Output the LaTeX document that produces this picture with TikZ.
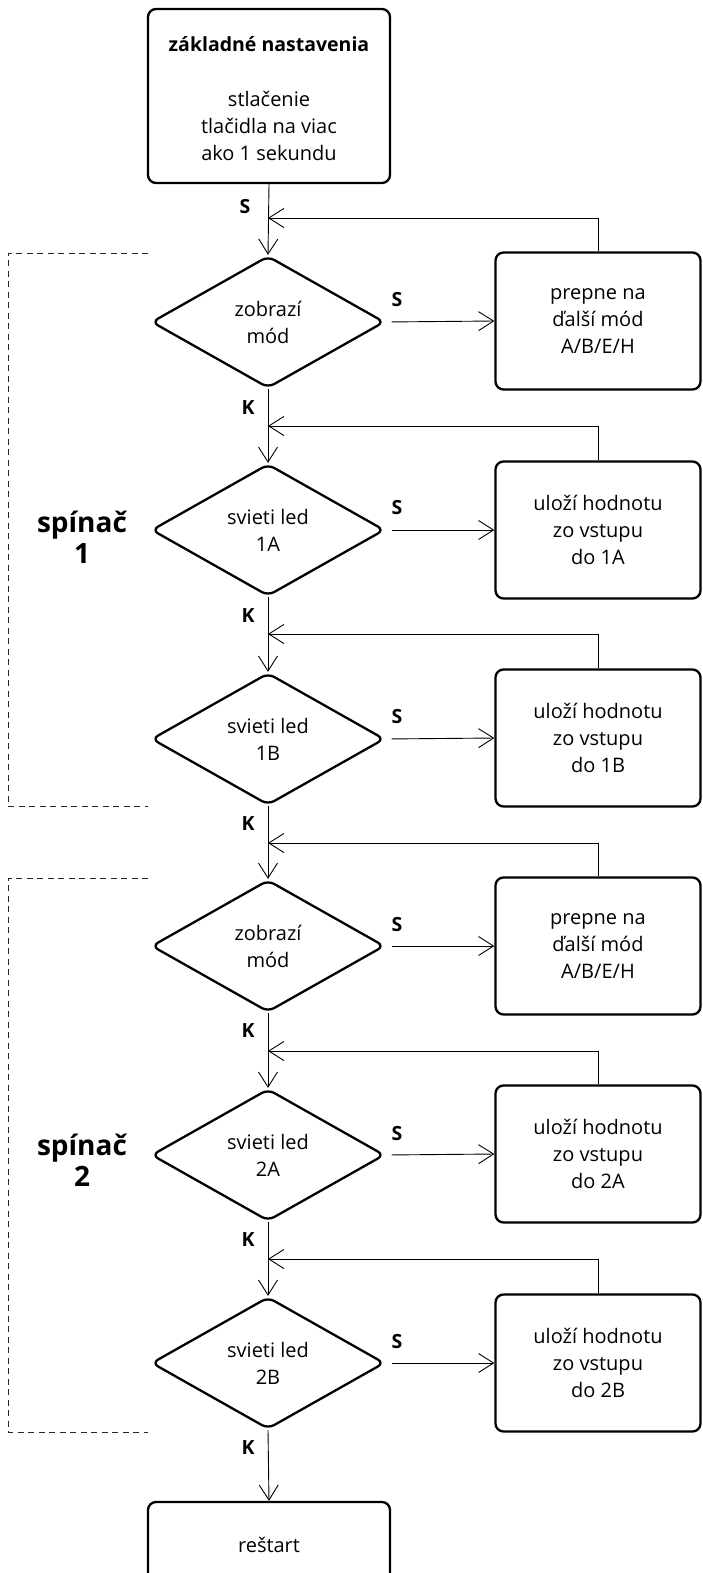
\documentclass[tikz,border=0pt]{standalone}
\usepackage{fontspec}
\setmainfont{Open Sans}
\usetikzlibrary{shapes.geometric,arrows.meta}
\begin{document}
\begin{tikzpicture}[x=1pt,y=-1pt,
  txt/.style={font=\fontsize{20}{27}\selectfont, align=center},
  box/.style={draw, line width=2.3pt, rounded corners=8pt, txt, inner sep=0pt},
  dia/.style={draw, diamond, line width=2.3pt, rounded corners=7pt, txt, inner sep=0pt,
    minimum width=233pt, minimum height=132pt, aspect=1.77},
  conn/.style={line width=0.9pt, -{Straight Barb[length=15pt,width=19pt,line width=0.9pt]}},
  lab/.style={font=\fontsize{19.5}{22}\selectfont\bfseries},
  grp/.style={draw, line width=0.9pt, dash pattern=on 6pt off 4.5pt, black!85},
  big/.style={font=\fontsize{28}{31}\selectfont\bfseries, align=center}]
\useasboundingbox (0,0) rectangle (702,1573);
% top box
\node[box, minimum width=242pt, minimum height=174pt] (top) at (269,96) {};
\node[txt, font=\fontsize{19.5}{27}\selectfont\bfseries] (toptitle) at (269,44) {základné nastavenia};
\node[txt] (toptext) at (269,126) {stlačenie\\tlačidla na viac\\ako 1 sekundu};
% diamonds
\node[dia] (d1) at (268,322) {zobrazí\\mód};
\node[dia] (d2) at (268,530) {svieti led\\1A};
\node[dia] (d3) at (268,739) {svieti led\\1B};
\node[dia] (d4) at (268,946) {zobrazí\\mód};
\node[dia] (d5) at (268,1155) {svieti led\\2A};
\node[dia] (d6) at (268,1363) {svieti led\\2B};
% right boxes
\node[box, minimum width=205pt, minimum height=137pt] (r1) at (598,321) {prepne na\\ďalší mód\\A/B/E/H};
\node[box, minimum width=205pt, minimum height=137pt] (r2) at (598,530) {uloží hodnotu\\zo vstupu\\do 1A};
\node[box, minimum width=205pt, minimum height=137pt] (r3) at (598,738) {uloží hodnotu\\zo vstupu\\do 1B};
\node[box, minimum width=205pt, minimum height=137pt] (r4) at (598,946) {prepne na\\ďalší mód\\A/B/E/H};
\node[box, minimum width=205pt, minimum height=137pt] (r5) at (598,1154) {uloží hodnotu\\zo vstupu\\do 2A};
\node[box, minimum width=205pt, minimum height=137pt] (r6) at (598,1363) {uloží hodnotu\\zo vstupu\\do 2B};
% restart box
\node[box, minimum width=242pt, minimum height=86pt] (rs) at (269,1545) {reštart};
% feedback coordinates
\coordinate (f1) at (268,218);
\coordinate (f2) at (268,426);
\coordinate (f3) at (268,634);
\coordinate (f4) at (268,843);
\coordinate (f5) at (268,1051);
\coordinate (f6) at (268,1259);
% main vertical flow
\draw[conn] (top.south) -- (d1.north);
\draw[conn] (d1.south) -- (d2.north);
\draw[conn] (d2.south) -- (d3.north);
\draw[conn] (d3.south) -- (d4.north);
\draw[conn] (d4.south) -- (d5.north);
\draw[conn] (d5.south) -- (d6.north);
\draw[conn] (d6.south) -- (rs.north);
% S arrows and feedback
\foreach \i in {1,...,6}{
  \draw[conn, shorten <=6pt] (d\i.east) -- (r\i.west);
  \draw[conn] (r\i.north) |- (f\i);
}
% labels
\node[lab] (s0) at (245,207) {S};
\node[lab] (k1) at (248,408) {K};
\node[lab] (k2) at (248,616) {K};
\node[lab] (k3) at (248,824) {K};
\node[lab] (k4) at (248,1031) {K};
\node[lab] (k5) at (248,1240) {K};
\node[lab] (k6) at (248,1448) {K};
\node[lab] (s1) at (397,300) {S};
\node[lab] (s2) at (397,508) {S};
\node[lab] (s3) at (397,717) {S};
\node[lab] (s4) at (397,925) {S};
\node[lab] (s5) at (397,1134) {S};
\node[lab] (s6) at (397,1342) {S};
% groups
\draw[grp] (148,253) -- (8,253) -- (8,806) -- (148,806);
\draw[grp] (148,878) -- (8,878) -- (8,1432) -- (148,1432);
\node[big] (g1) at (82,537) {spínač\\1};
\node[big] (g2) at (82,1160) {spínač\\2};
\end{tikzpicture}
\end{document}
